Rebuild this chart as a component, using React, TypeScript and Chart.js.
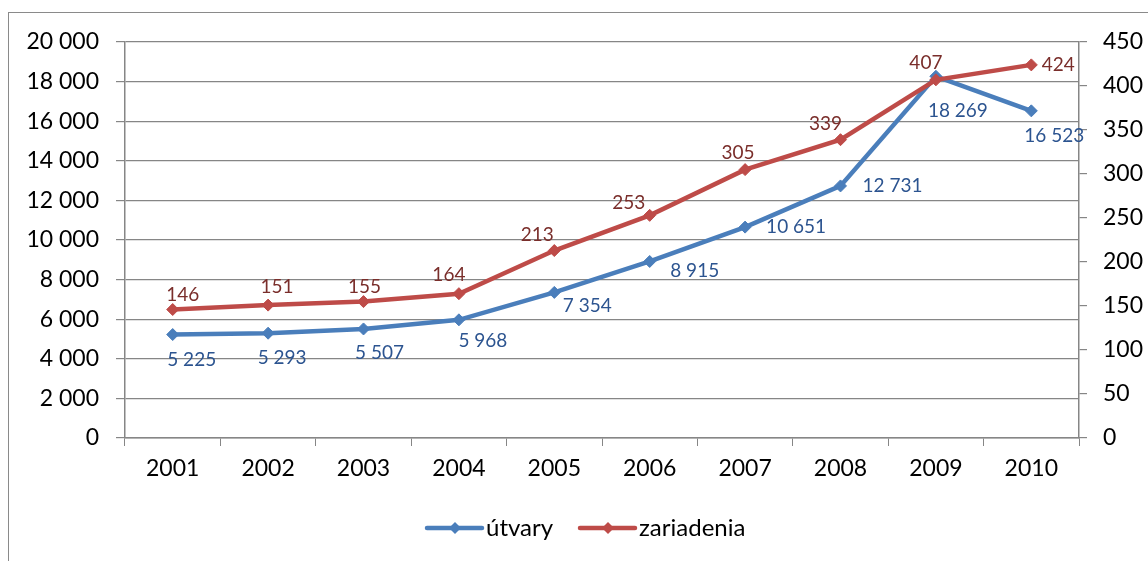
import React, { useEffect, useRef } from 'react';
import { Chart, registerables } from 'chart.js';

Chart.register(...registerables);

const years = ['2001', '2002', '2003', '2004', '2005', '2006', '2007', '2008', '2009', '2010'];
const utvary = [5225, 5293, 5507, 5968, 7354, 8915, 10651, 12731, 18269, 16523];
const zariadenia = [146, 151, 155, 164, 213, 253, 305, 339, 407, 424];
const seriesNames = ['útvary', 'zariadenia'];

const BLUE = '#4A7EBB';
const RED = '#BE4B48';
const BLUE_LABEL = '#2C5490';
const RED_LABEL = '#7A2E2B';
const GRID = '#868686';
const FONT = 'Lato, "Open Sans", sans-serif';

// label placement offsets (dx, dy) relative to each point
const blueOffsets: [number, number][] = [
  [19, 25], [14, 25], [16, 24], [24, 21], [33, 13], [45, 9], [51, 0], [52, 0], [22, 35], [23, 25],
];
const redOffsets: [number, number][] = [
  [10, -15], [9, -18], [1, -15], [-10, -19], [-17, -16], [-21, -12], [-7, -17], [-15, -16], [-10, -17], [27, 0],
];

const fmt = (n: number) => String(n).replace(/\B(?=(\d{3})+(?!\d))/g, ' ');

const framePlugin = {
  id: 'frame',
  beforeDraw(chart: any) {
    const ctx = chart.ctx;
    ctx.save();
    ctx.fillStyle = '#ffffff';
    ctx.fillRect(0, 0, chart.width, chart.height);
    ctx.strokeStyle = '#8A8A8A';
    ctx.lineWidth = 1;
    ctx.strokeRect(8.5, 12.5, chart.width + 50, chart.height + 50);
    ctx.restore();
  },
};

const labelsPlugin = {
  id: 'dataLabels',
  afterDatasetsDraw(chart: any) {
    const ctx = chart.ctx;
    ctx.save();
    ctx.font = `19px ${FONT}`;
    ctx.textAlign = 'center';
    ctx.textBaseline = 'middle';
    chart.data.datasets.forEach((ds: any, i: number) => {
      const meta = chart.getDatasetMeta(i);
      const offs = i === 0 ? blueOffsets : redOffsets;
      ctx.fillStyle = i === 0 ? BLUE_LABEL : RED_LABEL;
      meta.data.forEach((pt: any, j: number) => {
        const [dx, dy] = offs[j];
        ctx.fillText(fmt(ds.data[j]), pt.x + dx, pt.y + dy);
      });
    });
    ctx.restore();
  },
};

const legendPlugin = {
  id: 'customLegend',
  afterDraw(chart: any) {
    const ctx = chart.ctx;
    ctx.save();
    const y = 528;
    const items = [
      { x: 427, color: BLUE, text: seriesNames[0] },
      { x: 580, color: RED, text: seriesNames[1] },
    ];
    ctx.font = `24px ${FONT}`;
    ctx.textBaseline = 'middle';
    ctx.textAlign = 'left';
    items.forEach((it) => {
      ctx.strokeStyle = it.color;
      ctx.lineWidth = 4.5;
      ctx.lineCap = 'round';
      ctx.beginPath();
      ctx.moveTo(it.x, y);
      ctx.lineTo(it.x + 55, y);
      ctx.stroke();
      ctx.fillStyle = it.color;
      ctx.beginPath();
      const cx = it.x + 28;
      ctx.moveTo(cx, y - 6);
      ctx.lineTo(cx + 6, y);
      ctx.lineTo(cx, y + 6);
      ctx.lineTo(cx - 6, y);
      ctx.closePath();
      ctx.fill();
      ctx.fillStyle = '#000000';
      ctx.fillText(it.text, it.x + 59, y);
    });
    ctx.restore();
  },
};

export default function App() {
  const ref = useRef<HTMLCanvasElement | null>(null);

  useEffect(() => {
    if (!ref.current) return;
    const tickFont = { family: FONT, size: 23 };
    const chart = new Chart(ref.current, {
      type: 'line',
      data: {
        labels: years,
        datasets: [
          {
            label: seriesNames[0],
            data: utvary,
            yAxisID: 'y',
            borderColor: BLUE,
            backgroundColor: BLUE,
            borderWidth: 4.5,
            pointStyle: 'rectRot',
            pointRadius: 6,
            pointBorderWidth: 1,
            pointBackgroundColor: BLUE,
            pointBorderColor: BLUE,
            tension: 0,
            order: 1,
          },
          {
            label: seriesNames[1],
            data: zariadenia,
            yAxisID: 'y1',
            borderColor: RED,
            backgroundColor: RED,
            borderWidth: 4.5,
            pointStyle: 'rectRot',
            pointRadius: 6,
            pointBorderWidth: 1,
            pointBackgroundColor: RED,
            pointBorderColor: RED,
            tension: 0,
            order: 0,
          },
        ],
      },
      options: {
        responsive: false,
        animation: false,
        layout: { padding: { top: 42, left: 0, right: 0, bottom: 0 } },
        plugins: {
          legend: { display: false },
          tooltip: { enabled: false },
        },
        scales: {
          x: {
            type: 'category',
            offset: true,
            grid: {
              display: true,
              drawOnChartArea: false,
              drawTicks: true,
              tickLength: 8,
              color: GRID,
              offset: true,
            },
            border: { display: true, color: GRID, width: 1.5 },
            ticks: { font: tickFont, color: '#000', padding: 9, maxRotation: 0 },
            afterFit: (s: any) => {
              s.height = 123;
            },
          },
          y: {
            position: 'left',
            min: 0,
            max: 20000,
            ticks: {
              stepSize: 2000,
              font: tickFont,
              color: '#000',
              padding: 17,
              callback: (v: any) => fmt(Number(v)),
            },
            grid: { color: GRID, tickLength: 9, lineWidth: 1.2 },
            border: { display: true, color: GRID, width: 1.5 },
            afterFit: (s: any) => {
              s.width = 125;
            },
          },
          y1: {
            position: 'right',
            min: 0,
            max: 450,
            ticks: {
              stepSize: 50,
              font: tickFont,
              color: '#000',
              padding: 16,
              callback: (v: any) => fmt(Number(v)),
            },
            grid: { drawOnChartArea: false, color: GRID, tickLength: 8, lineWidth: 1.2 },
            border: { display: true, color: GRID, width: 1.5 },
            afterFit: (s: any) => {
              s.width = 69;
            },
          },
        },
      },
      plugins: [framePlugin, labelsPlugin, legendPlugin],
    });
    return () => chart.destroy();
  }, []);

  return (
    <div style={{ position: 'fixed', left: 0, top: 0, width: 1148, height: 561, background: '#fff' }}>
      <canvas ref={ref} width={1148} height={561} style={{ display: 'block' }} />
    </div>
  );
}
